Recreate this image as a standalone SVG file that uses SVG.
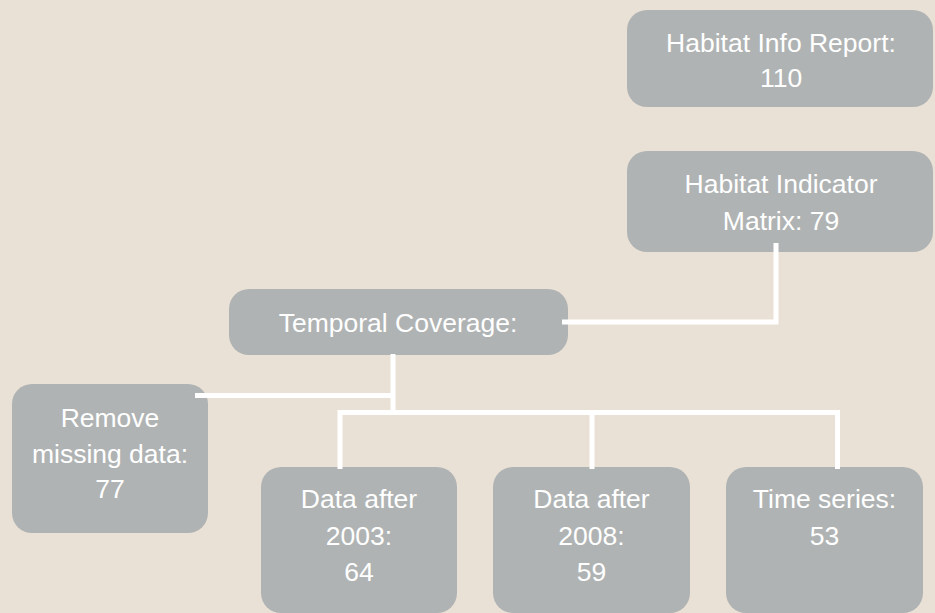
<svg xmlns="http://www.w3.org/2000/svg" width="935" height="613" viewBox="0 0 935 613">
<style>
.box{fill:#B0B3B3;}
.t{font-family:"Liberation Sans",Arial,sans-serif;font-size:26.5px;fill:#FFFFFF;text-anchor:middle;}
.c{fill:none;stroke:#FFFFFF;stroke-width:5;}
</style>
<rect x="0" y="0" width="935" height="613" fill="#EAE1D6"/>
<g id="habitat-info-report">
<rect class="box" x="627" y="10" width="306" height="97" rx="20"/>
<text class="t" x="781" y="52">Habitat Info Report:</text>
<text class="t" x="781" y="87">110</text>
</g>
<g id="habitat-indicator-matrix">
<rect class="box" x="627" y="151" width="306" height="101" rx="20"/>
<text class="t" x="781" y="193">Habitat Indicator</text>
<text class="t" x="781" y="230">Matrix: 79</text>
</g>
<g id="temporal-coverage">
<rect class="box" x="229" y="289" width="339" height="66" rx="20"/>
<text class="t" x="398" y="332">Temporal Coverage:</text>
</g>
<g id="remove-missing-data">
<rect class="box" x="12" y="384" width="196" height="149" rx="20"/>
<text class="t" x="110" y="427">Remove</text>
<text class="t" x="110" y="463">missing data:</text>
<text class="t" x="110" y="498">77</text>
</g>
<g id="data-after-2003">
<rect class="box" x="261" y="467" width="196" height="146" rx="20"/>
<text class="t" x="359" y="508">Data after</text>
<text class="t" x="359" y="545">2003:</text>
<text class="t" x="359" y="581">64</text>
</g>
<g id="data-after-2008">
<rect class="box" x="493" y="467" width="197" height="146" rx="20"/>
<text class="t" x="591.5" y="508">Data after</text>
<text class="t" x="591.5" y="545">2008:</text>
<text class="t" x="591.5" y="581">59</text>
</g>
<g id="time-series">
<rect class="box" x="726" y="467" width="197" height="146" rx="20"/>
<text class="t" x="824.5" y="508">Time series:</text>
<text class="t" x="824.5" y="545">53</text>
</g>
<g id="connectors">
<path class="c" d="M776 243 V322 H562"/>
<path class="c" d="M393 354 V413"/>
<path class="c" d="M195 395.5 H393"/>
<path class="c" d="M340 469 V412.5 H840"/>
<path class="c" d="M592 412.5 V469"/>
<path class="c" d="M837.5 412.5 V469"/>
</g>
</svg>
